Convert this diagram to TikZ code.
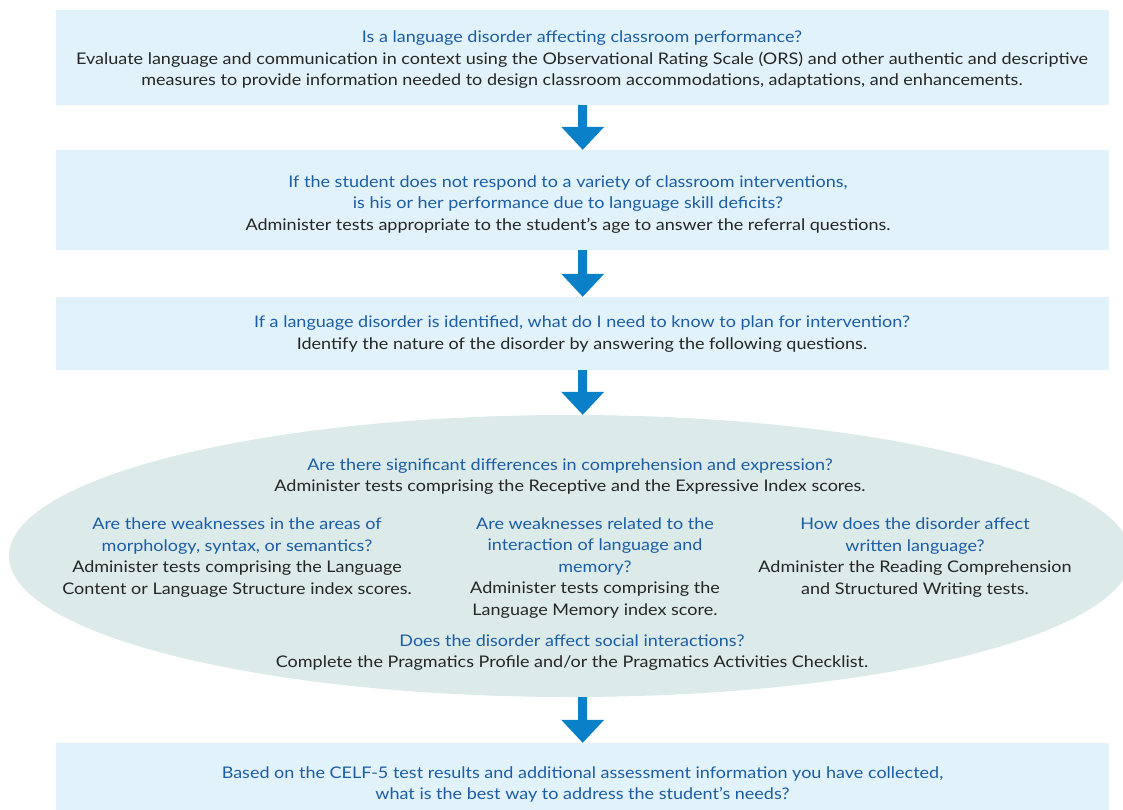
\documentclass[tikz,border=0pt]{standalone}
\usepackage{fontspec}
\setmainfont{Lato}[FakeStretch=1.125]
\usetikzlibrary{calc,shapes.geometric}
\definecolor{boxfill}{HTML}{E1F2FA}
\definecolor{ellfill}{HTML}{DCEAEA}
\definecolor{arrowc}{HTML}{0A80C8}
\definecolor{qblue}{HTML}{1B5EA6}
\definecolor{tblack}{HTML}{262626}
\tikzset{
  panel/.style={fill=boxfill, draw=none, inner sep=0pt, minimum width=1053pt},
  oval/.style={ellipse, fill=ellfill, draw=none, inner sep=0pt},
  txt/.style={align=center, font=\fontsize{16}{21.5}\selectfont, text=tblack, inner sep=0pt},
  blockarrow/.style={fill=arrowc, draw=none},
}
\newcommand\qq[1]{\textcolor{qblue}{#1}}
\newcommand\blockarr[2]{%
  \coordinate (s) at (#1.south -| ax);
  \coordinate (e) at (#2.north -| ax);
  \fill[blockarrow] ($(s)+(-4.5,0)$) -- ($(s)+(4.5,0)$) -- ($(e)+(4.5,-23)$) -- ($(e)+(21.5,-23)$) -- (e) -- ($(e)+(-21.5,-23)$) -- ($(e)+(-4.5,-23)$) -- cycle;}
\begin{document}
\begin{tikzpicture}[x=1pt,y=-1pt]
\useasboundingbox (0,0) rectangle (1123,810);
\coordinate (ax) at (582.7,0);
\node[panel, minimum height=95pt] (b1) at (582.5,57.5) {};
\node[panel, minimum height=100pt] (b2) at (582.5,200) {};
\node[panel, minimum height=73pt] (b3) at (582.5,333.5) {};
\node[oval, minimum width=1122pt, minimum height=282pt] (ell) at (570,556) {};
\node[panel, minimum height=80pt] (b4) at (582.5,783) {};

\blockarr{b1}{b2}
\blockarr{b2}{b3}
\blockarr{b3}{ell}
\blockarr{ell}{b4}

\node[txt] (t1) at (582,60) {\qq{Is a language disorder affecting classroom performance?}\\
Evaluate language and communication in context using the Observational Rating Scale (ORS) and other authentic and descriptive\\
measures to provide information needed to design classroom accommodations, adaptations, and enhancements.};
\node[txt] (t2) at (568,204.5) {\qq{If the student does not respond to a variety of classroom interventions,}\\
\qq{is his or her performance due to language skill deficits?}\\
Administer tests appropriate to the student’s age to answer the referral questions.};
\node[txt] (t3) at (582,334) {\qq{If a language disorder is identified, what do I need to know to plan for intervention?}\\
Identify the nature of the disorder by answering the following questions.};
\node[txt] (t4) at (570,476.5) {\qq{Are there significant differences in comprehension and expression?}\\
Administer tests comprising the Receptive and the Expressive Index scores.};
\node[txt] (t5) at (237,557.5) {\qq{Are there weaknesses in the areas of}\\
\qq{morphology, syntax, or semantics?}\\
Administer tests comprising the Language\\
Content or Language Structure index scores.};
\node[txt] (t6) at (595,568) {\qq{Are weaknesses related to the}\\
\qq{interaction of language and}\\
\qq{memory?}\\
Administer tests comprising the\\
Language Memory index score.};
\node[txt] (t7) at (915,557.5) {\qq{How does the disorder affect}\\
\qq{written language?}\\
Administer the Reading Comprehension\\
and Structured Writing tests.};
\node[txt] (t8) at (572,652.5) {\qq{Does the disorder affect social interactions?}\\
Complete the Pragmatics Profile and/or the Pragmatics Activities Checklist.};
\node[txt] (t9) at (582.5,784.5) {\qq{Based on the CELF-5 test results and additional assessment information you have collected,}\\
\qq{what is the best way to address the student’s needs?}};
\end{tikzpicture}
\end{document}
